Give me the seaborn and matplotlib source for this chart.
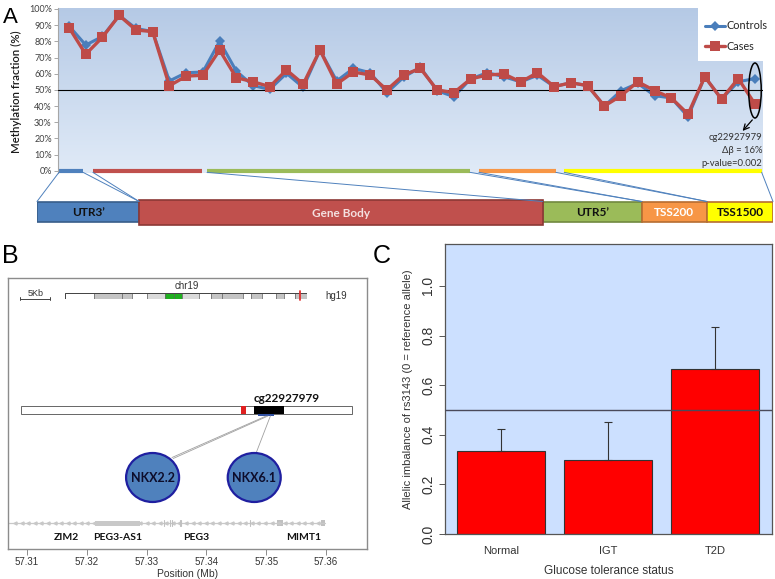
import numpy as np
import pandas as pd
import matplotlib
matplotlib.use("Agg")
import matplotlib.pyplot as plt
import seaborn as sns
from matplotlib.patches import Rectangle, Ellipse
from matplotlib.lines import Line2D

# ---------------- data ----------------
probe_idx = list(range(1, 43))
controls = [89.5, 77.7, 83, 96, 88, 86, 55.5, 60.6, 61, 80, 61.6, 52.6, 50.3, 60.2, 51.5, 74.6, 55.5, 63.3, 60.6, 48.2,
            57.8, 64, 49.5, 45.8, 56.7, 60.6, 58.1, 54.9, 59, 52, 54.4, 52.6, 40, 49.5, 54, 46.4, 45, 33.4, 58.1, 44.3, 55, 57]
cases = [88.5, 72, 82.5, 96, 87, 86, 52.5, 58.5, 59, 74.6, 57.5, 55, 52, 62.3, 53.6, 74.6, 53.6, 61, 59.2, 50,
         59.2, 63.3, 50, 48.2, 56.7, 59.2, 59.8, 54.9, 60.6, 52, 54.4, 52.6, 40, 46.4, 55, 49.5, 45, 35, 58.1, 44.3, 57, 41.2]

regions = ["UTR3\u2019", "Gene Body", "UTR5\u2019", "TSS200", "TSS1500"]
region_start = [0.40, 2.43, 9.25, 25.5, 30.6]
region_end = [1.84, 8.95, 24.97, 30.1, 42.4]
region_colors = ["#4f81bd", "#c0504d", "#9bbb59", "#f79646", "#ffff00"]
region_edges = ["#385d8a", "#8c3836", "#71893f", "#b66d31", "#b66d31"]
region_text = ["#111111", "#f4e0e0", "#111111", "#ffffff", "#111111"]
box_widths = [102, 403, 99, 65, 66]

# panel B
ideo_edges = [0, 0.120, 0.236, 0.277, 0.339, 0.413, 0.450, 0.483, 0.554, 0.603, 0.649, 0.736,
              0.769, 0.814, 0.872, 0.905, 0.950, 1.0]
ideo_colors = ["w", "#c4c4c4", "#c4c4c4", "w", "#dadada", "#1fb01f", "#1fb01f", "#dadada", "w",
               "#c4c4c4", "#c4c4c4", "w", "#c4c4c4", "w", "#c4c4c4", "w", "#c4c4c4"]
genes = ["ZIM2", "PEG3-AS1", "PEG3", "MIMT1"]
gene_label_pos = [57.3166, 57.3252, 57.3383, 57.3563]
tfs = ["NKX2.2", "NKX6.1"]
tf_pos = [57.3310, 57.3480]
pos_ticks = [57.31, 57.32, 57.33, 57.34, 57.35, 57.36]

# panel C
status = ["Normal", "IGT", "T2D"]
imbalance = [0.333, 0.300, 0.667]
err_up = [0.092, 0.153, 0.166]

# ---------------- figure ----------------
sns.set_style("white")
plt.rcParams["font.family"] = ["Liberation Sans", "DejaVu Sans"]
W, H = 775, 579
fig = plt.figure(figsize=(W / 100, H / 100), dpi=100)
fig.patch.set_facecolor("white")


def add_ax(x0, y0, x1, y1):
    return fig.add_axes([x0 / W, 1 - y1 / H, (x1 - x0) / W, (y1 - y0) / H])


def to_fig(ax, x, y):
    d = ax.transData.transform((x, y))
    return fig.transFigure.inverted().transform(d)


fontA = ["Lato", "DejaVu Sans"]

# ---------------- Panel A ----------------
axA = add_ax(58, 8, 763, 173)
xl = (0.343, 42.48)
yl = (-1.4, 100.6)
grad = np.linspace(0, 1, 256)[:, None]
top = np.array([0.71, 0.79, 0.90])
bot = np.array([0.88, 0.92, 0.97])
img = top[None, None, :] * (1 - grad[:, :, None]) + bot[None, None, :] * grad[:, :, None]
axA.imshow(img, extent=[xl[0], xl[1], yl[0], yl[1]], aspect="auto", zorder=0)
axA.set_xlim(*xl)
axA.set_ylim(*yl)

dfA = pd.DataFrame({"probe": probe_idx, "Controls": controls, "Cases": cases})
sns.lineplot(data=dfA, x="probe", y="Controls", ax=axA, color="#4a7ebb", lw=2.2,
             marker="D", markersize=5, markeredgewidth=0, zorder=3)
sns.lineplot(data=dfA, x="probe", y="Cases", ax=axA, color="#be4b48", lw=2.4,
             marker="s", markersize=6.5, markeredgewidth=0, zorder=4)
axA.axhline(50, color="black", lw=0.8, zorder=3.5)

for s, e, c in zip(region_start, region_end, region_colors):
    axA.plot([s, e], [0, 0], color=c, lw=3, solid_capstyle="butt", zorder=2, clip_on=False)

axA.set_yticks(range(0, 101, 10))
axA.set_yticklabels([f"{v}%" for v in range(0, 101, 10)], fontsize=6.5, color="#404040", family=fontA)
axA.set_xticks([])
axA.tick_params(axis="y", direction="out", length=3, width=0.6, color="#999999", pad=1.5, left=True)
for sp in ["top", "right", "bottom"]:
    axA.spines[sp].set_visible(False)
axA.spines["left"].set_color("#a6a6a6")
axA.spines["left"].set_linewidth(0.8)
axA.set_xlabel("")
axA.set_ylabel("Methylation fraction (%)", fontsize=8.2, color="#1a1a1a", family=fontA, fontweight="semibold")
axA.yaxis.set_label_coords(-0.051, 0.49)

# annotation
axA.add_patch(Ellipse((42.0, 49.6), 0.75, 34, fill=False, ec="black", lw=1.1, zorder=5))
axA.annotate("", xy=(41.15, 23.3), xytext=(41.95, 32.7),
             arrowprops=dict(arrowstyle="->", color="black", lw=0.9), zorder=5)
for txt, yy in zip(["cg22927979", "\u0394\u03b2 = 16%", "p-value=0.002"], [20.8, 12.8, 4.3]):
    axA.text(42.45, yy, txt, ha="right", va="center", fontsize=6.8, color="#333333", family=fontA, zorder=5)

# legend box
fig.add_artist(Rectangle((698 / W, 1 - 61 / H), 77 / W, 61 / H, transform=fig.transFigure,
                         fc="white", ec="none", zorder=2))
handles = [Line2D([0], [0], color="#4a7ebb", lw=2.2, marker="D", markersize=5, markeredgewidth=0),
           Line2D([0], [0], color="#be4b48", lw=2.4, marker="s", markersize=6.5, markeredgewidth=0)]
leg = fig.legend(handles, ["Controls", "Cases"], loc="upper left", bbox_to_anchor=(698 / W, 1 - 14 / H),
                 frameon=False, handlelength=1.9, handletextpad=0.15, labelspacing=0.9,
                 borderpad=0.1, prop={"family": fontA, "size": 7.8})

# region boxes
axB0 = add_ax(37, 198, 773, 227)
axB0.set_xlim(0, sum(box_widths))
axB0.set_ylim(227, 198)
axB0.axis("off")
left = 0
box_left = []
for i, (w, c, ec, name, tc) in enumerate(zip(box_widths, region_colors, region_edges, regions, region_text)):
    if i == 1:
        y0, h = 199.5, 25.5
    else:
        y0, h = 201.5, 20.5
    axB0.barh(y0 + h / 2, w, left=left, height=h, color=c, edgecolor=ec, linewidth=1.2, zorder=3 if i == 1 else 2)
    axB0.text(left + w / 2, y0 + h / 2 + 1, name, ha="center", va="center", fontsize=8.5,
              fontweight="bold", color=tc, family=fontA, zorder=4)
    box_left.append(left)
    left += w
box_right = [l + w for l, w in zip(box_left, box_widths)]

# connectors
conn_col = "#4f81bd"
for i in range(len(regions)):
    pairs = [(region_start[i], box_left[i])]
    if i != 1:
        pairs.append((region_end[i], box_right[i]))
    for xa, xb in pairs:
        p1 = to_fig(axA, xa, -1.0)
        p2 = to_fig(axB0, xb, 201.5)
        fig.add_artist(Line2D([p1[0], p2[0]], [p1[1], p2[1]], transform=fig.transFigure,
                              color=conn_col, lw=0.7, zorder=1))

# ---------------- Panel B ----------------
axB = add_ax(8, 278, 367, 549)
axB.set_xlim(57.30682, 57.36686)
axB.set_ylim(549, 278)
for sp in axB.spines.values():
    sp.set_color("#8c8c8c")
    sp.set_linewidth(1.0)
axB.set_yticks([])
axB.set_xticks(pos_ticks)
axB.set_xticklabels([f"{v:.2f}" for v in pos_ticks], fontsize=7, color="#333333")
axB.tick_params(axis="x", direction="out", length=4, width=0.7, color="#8c8c8c", bottom=True, pad=2)
axB.set_xlabel("Position (Mb)", fontsize=7.5, color="#333333", labelpad=1)

# scale bar 5Kb
axB.plot([57.3089, 57.3139], [298.5, 298.5], color="#444444", lw=0.7)
axB.plot([57.3089, 57.3089], [296.5, 300], color="#444444", lw=0.7)
axB.plot([57.3139, 57.3139], [296.5, 300], color="#444444", lw=0.7)
axB.text(57.3114, 297.5, "5Kb", ha="center", va="bottom", fontsize=6.5, color="#333333")
axB.text(57.3617, 296, "hg19", ha="center", va="center", fontsize=7, color="#333333")
axB.text(57.3368, 286, "chr19", ha="center", va="center", fontsize=7, color="#333333")

# ideogram
axI = add_ax(65, 292.7, 307, 298.9)
axI.set_xlim(0, 1)
axI.set_ylim(0, 1)
axI.axis("off")
for a, b, c in zip(ideo_edges[:-1], ideo_edges[1:], ideo_colors):
    axI.add_patch(Rectangle((a, 0), b - a, 1, fc=c, ec="#555555", lw=0.4))
axI.add_patch(Rectangle((0, 0), 1, 1, fc="none", ec="#444444", lw=0.7))
axI.plot([0.971, 0.971], [-0.2, 1.2], color="#e03030", lw=1.3, clip_on=False)

# lower bar with cg
axB.add_patch(Rectangle((57.3090, 405.5), 0.0553, 8.5, fc="white", ec="#666666", lw=0.7))
axB.add_patch(Rectangle((57.3458, 405.5), 0.0009, 8.5, fc="#e02020", ec="none"))
axB.add_patch(Rectangle((57.3480, 405.5), 0.0050, 8.5, fc="black", ec="none"))
axB.add_patch(Rectangle((57.3487, 413.5), 0.0026, 2.5, fc="#2f4fa0", ec="none"))
axB.text(57.3535, 398, "cg22927979", ha="center", va="center", fontsize=8.5, fontweight="bold",
         color="#111111", family=fontA)

# connections to TFs
axB.plot([57.3500, 57.33425], [416, 457.5], color="#a0a0a0", lw=0.6)
axB.plot([57.3503, 57.33445], [416, 458.5], color="#a0a0a0", lw=0.6)
axB.plot([57.3507, 57.34835], [416, 452.5], color="#a0a0a0", lw=0.6)
for name, xp in zip(tfs, tf_pos):
    axB.add_patch(Ellipse((xp, 477.5), 53 / 5980, 49, fc="#4f81bd", ec="#1f1fa0", lw=1.6, zorder=3))
    axB.text(xp, 478, name, ha="center", va="center", fontsize=9, fontweight="bold",
             color="#0d0d2b", family=fontA, zorder=4)

# gene track
axB.plot([57.3068, 57.3598], [523, 523], color="#c8c8c8", lw=0.9)
arrow_x = np.arange(57.3080, 57.3595, 0.0011)
axB.plot(arrow_x, np.full_like(arrow_x, 523), ls="none", marker="<", markersize=2.2, color="#c8c8c8")
axB.add_patch(Rectangle((57.32137, 520.5), 0.00753, 5, fc="#c8c8c8", ec="none"))
for xm in [57.33285, 57.33385, 57.33420, 57.33555, 57.33570, 57.34725]:
    axB.plot([xm, xm], [520, 526], color="#c0c0c0", lw=0.8)
axB.add_patch(Rectangle((57.35180, 520), 0.0010, 6, fc="#c0c0c0", ec="none"))
axB.add_patch(Rectangle((57.35910, 520), 0.0007, 6, fc="#c0c0c0", ec="none"))
for g, gx in zip(genes, gene_label_pos):
    axB.text(gx, 538, g, ha="center", va="center", fontsize=7.5, fontweight="bold",
             color="#111111", family=fontA)

# ---------------- Panel C ----------------
axC = add_ax(445, 244, 772, 534)
dfC = pd.DataFrame({"status": status, "imbalance": imbalance})
axC.set_facecolor("#cce0ff")
sns.barplot(data=dfC, x="status", y="imbalance", color="#ff0000", saturation=1, width=0.83,
            edgecolor="#333333", linewidth=0.8, errorbar=None, ax=axC, zorder=2)
axC.errorbar(range(len(status)), imbalance, yerr=[np.zeros(len(status)), err_up], fmt="none",
             ecolor="#333333", elinewidth=0.8, capsize=3, capthick=0.8, zorder=3)
axC.axhline(0.5, color="#4a4a5a", lw=1.0, zorder=4)
axC.set_xlim(-0.523, 2.533)
axC.set_ylim(0, 1.169)
yt = [0.0, 0.2, 0.4, 0.6, 0.8, 1.0]
axC.set_yticks(yt)
axC.set_yticklabels([f"{v:.1f}" for v in yt], fontsize=10, color="#333333", rotation=90, va="center")
axC.tick_params(axis="y", direction="out", length=4, width=0.7, color="#555555", left=True, pad=3)
axC.tick_params(axis="x", length=0, pad=9, labelsize=8, labelcolor="#333333")
for sp in axC.spines.values():
    sp.set_color("#555555")
    sp.set_linewidth(0.9)
axC.set_xlabel("Glucose tolerance status", fontsize=8.5, color="#333333", labelpad=6)
axC.set_ylabel("Allelic imbalance of rs3143 (0 = reference allele)", fontsize=8, color="#333333", labelpad=6)

# panel letters
fig.text(3 / W, 1 - 23 / H, "A", fontsize=16, color="black", va="baseline")
fig.text(2 / W, 1 - 263 / H, "B", fontsize=18, color="black", va="baseline")
fig.text(373 / W, 1 - 263 / H, "C", fontsize=18, color="black", va="baseline")

fig.savefig("out.png", dpi=100)
